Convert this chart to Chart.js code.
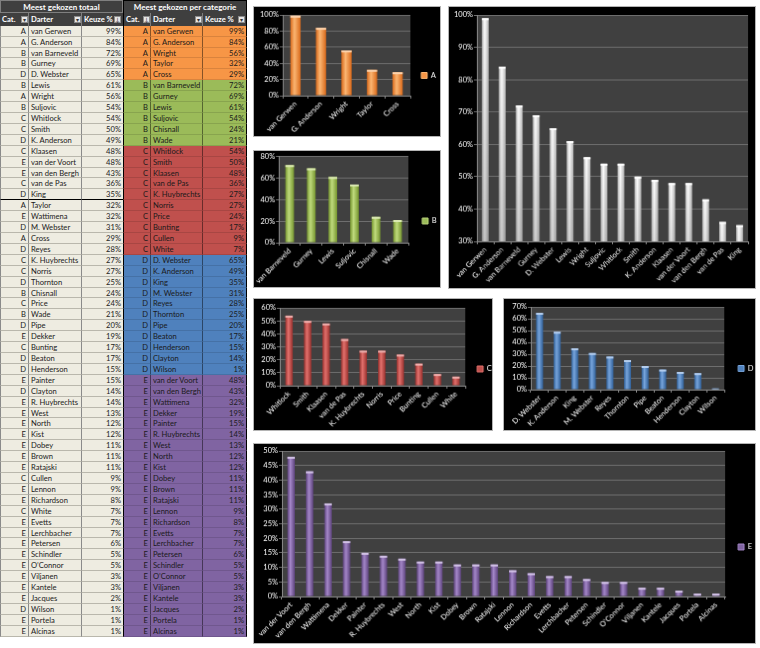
<!DOCTYPE html>
<html>
<head>
<meta charset="utf-8">
<script src="https://cdn.jsdelivr.net/npm/chart.js@4.4.0/dist/chart.umd.min.js"></script>
<style>
body{margin:0;width:760px;height:648px;background:#fff;position:relative;overflow:hidden;font-family:Lato,sans-serif}
.c{position:absolute;box-sizing:border-box;font-size:7.6px;color:#1a1a1a;white-space:nowrap;overflow:hidden;padding:0 2px}
.h{color:#fff;font-weight:bold;background:#3f3f3f}
.btn{position:absolute;width:7px;height:7px;box-sizing:border-box;background:#e6e6e6;border:1px solid #8c8c8c;font-size:6px;line-height:5px;text-align:center;color:#333}
</style>
</head>
<body>
<script>
// overall ranking (left table)
const totalCats = ['A','A','B','B','D','B','A','B','C','C','D','C','E','E','C','D','A','E','D','A','D','C','C','D','B','C','B','D','E','C','D','D','E','D','E','E','E','E','E','E','E','C','E','E','C','E','E','E','E','E','E','E','E','D','E','E'];
const totalNames = ['van Gerwen','G. Anderson','van Barneveld','Gurney','D. Webster','Lewis','Wright','Suljovic','Whitlock','Smith','K. Anderson','Klaasen','van der Voort','van den Bergh','van de Pas','King','Taylor','Wattimena','M. Webster','Cross','Reyes','K. Huybrechts','Norris','Thornton','Chisnall','Price','Wade','Pipe','Dekker','Bunting','Beaton','Henderson','Painter','Clayton','R. Huybrechts','West','North','Kist','Dobey','Brown','Ratajski','Cullen','Lennon','Richardson','White','Evetts','Lerchbacher','Petersen','Schindler','O’Connor','Viljanen','Kantele','Jacques','Wilson','Portela','Alcinas'];
const totalPct = [99,84,72,69,65,61,56,54,54,50,49,48,48,43,36,35,32,32,31,29,28,27,27,25,24,24,21,20,19,17,17,15,15,14,14,13,12,12,11,11,11,9,9,8,7,7,7,6,5,5,3,3,2,1,1,1];

// per category
const namesA = ['van Gerwen','G. Anderson','Wright','Taylor','Cross'];
const pctA = [99,84,56,32,29];
const namesB = ['van Barneveld','Gurney','Lewis','Suljovic','Chisnall','Wade'];
const pctB = [72,69,61,54,24,21];
const namesC = ['Whitlock','Smith','Klaasen','van de Pas','K. Huybrechts','Norris','Price','Bunting','Cullen','White'];
const pctC = [54,50,48,36,27,27,24,17,9,7];
const namesD = ['D. Webster','K. Anderson','King','M. Webster','Reyes','Thornton','Pipe','Beaton','Henderson','Clayton','Wilson'];
const pctD = [65,49,35,31,28,25,20,17,15,14,1];
const namesE = ['van der Voort','van den Bergh','Wattimena','Dekker','Painter','R. Huybrechts','West','North','Kist','Dobey','Brown','Ratajski','Lennon','Richardson','Evetts','Lerchbacher','Petersen','Schindler','O’Connor','Viljanen','Kantele','Jacques','Portela','Alcinas'];
const pctE = [48,43,32,19,15,14,13,12,12,11,11,11,9,8,7,7,6,5,5,3,3,2,1,1];

const catColor = {A:'#f79646', B:'#9bbb59', C:'#c0504d', D:'#4f81bd', E:'#8064a2'};

// ---------- table ----------
const ROW = 10.91, TOP = 25.7;
function cell(x, y, w, h, txt, cls, align, bg, extra) {
	let d = document.createElement('div');
	d.className = 'c ' + (cls || '');
	d.style.cssText += `left:${x}px;top:${y}px;width:${w}px;height:${h}px;line-height:${h}px;text-align:${align};` + (bg ? `background:${bg};` : '') + (extra || '');
	d.textContent = txt;
	document.body.appendChild(d);
	return d;
}
function btn(x, y, g) {
	let b = document.createElement('div');
	b.className = 'btn';
	b.style.left = x + 'px'; b.style.top = y + 'px';
	b.textContent = g;
	document.body.appendChild(b);
}

cell(0, 0, 123, 13, 'Meest gekozen totaal', 'h', 'center', null, 'font-size:8px;border:1px solid #7f7f7f;');
cell(123, 0, 124, 13, 'Meest gekozen per categorie', 'h', 'center', null, 'font-size:8px;border:1.5px solid #000;border-bottom:none;');
let hy = 13, hh = 12.7;
cell(0, hy, 29, hh, 'Cat.', 'h', 'left', null, 'border-right:1px solid #7f7f7f;');
cell(29, hy, 53, hh, 'Darter', 'h', 'left', null, 'border-right:1px solid #7f7f7f;');
cell(82, hy, 41, hh, 'Keuze %', 'h', 'left', null, '');
cell(123, hy, 28, hh, 'Cat.', 'h', 'left', null, 'border-left:1.5px solid #000;border-right:1px solid #7f7f7f;');
cell(151, hy, 52, hh, 'Darter', 'h', 'left', null, 'border-right:1px solid #7f7f7f;');
cell(203, hy, 44, hh, 'Keuze %', 'h', 'left', null, 'border-right:1.5px solid #000;');
btn(21, 15.5, '▾'); btn(74, 15.5, '▾'); btn(114, 15.5, '↓');
btn(143, 15.5, '↓'); btn(195, 15.5, '▾'); btn(238, 15.5, '▾');

const rightNames = [].concat(namesA, namesB, namesC, namesD, namesE);
const rightPct = [].concat(pctA, pctB, pctC, pctD, pctE);
const rightCats = [].concat(namesA.map(() => 'A'), namesB.map(() => 'B'), namesC.map(() => 'C'), namesD.map(() => 'D'), namesE.map(() => 'E'));

totalNames.forEach(function (n, i) {
	let y = TOP + i * ROW;
	let bl = 'border-bottom:1px solid #b9b7ac;border-right:1px solid #8a8a8a;';
	if (i == 15) bl = 'border-bottom:1.5px solid #000;border-right:1px solid #8a8a8a;';
	cell(0, y, 29, ROW, totalCats[i], '', 'right', '#eeece1', bl + 'border-left:1px solid #8a8a8a;');
	cell(29, y, 53, ROW, n, '', 'left', '#eeece1', bl);
	cell(82, y, 41, ROW, totalPct[i] + '%', '', 'right', '#eeece1', bl.replace('border-right:1px solid #8a8a8a;', ''));
	let c = catColor[rightCats[i]];
	let br = 'border-bottom:1px solid rgba(0,0,0,0.12);border-right:1px solid rgba(0,0,0,0.45);';
	cell(123, y, 28, ROW, rightCats[i], '', 'right', c, br + 'border-left:1.5px solid #000;');
	cell(151, y, 52, ROW, rightNames[i], '', 'left', c, br);
	cell(203, y, 44, ROW, rightPct[i] + '%', '', 'right', c, br.replace('rgba(0,0,0,0.45)', '#000').replace('border-right:1px', 'border-right:1.5px'));
});

// ---------- charts ----------
Chart.defaults.font.family = 'Lato, sans-serif';

const plotBg = {
	id: 'plotBg',
	beforeDraw(chart) {
		const a = chart.chartArea, c = chart.ctx;
		c.save();
		c.fillStyle = '#404040';
		c.fillRect(a.left, a.top, a.right - a.left, a.bottom - a.top);
		c.restore();
	}
};
const caps = {
	id: 'caps',
	afterDatasetsDraw(chart, args, opts) {
		const c = chart.ctx;
		c.save();
		chart.getDatasetMeta(0).data.forEach(function (b) {
			const w = b.width;
			if (opts.shade) {
				let g = c.createLinearGradient(0, b.y, 0, b.base);
				g.addColorStop(0, 'rgba(0,0,0,0)');
				g.addColorStop(1, 'rgba(0,0,0,0.3)');
				c.fillStyle = g;
				c.fillRect(b.x - w / 2, b.y, w, b.base - b.y);
			}
			c.fillStyle = opts.cap;
			c.fillRect(b.x - w / 2, b.y, w, Math.min(2, b.base - b.y));
		});
		c.restore();
	}
};

function barFill(light, dark) {
	return function (ctx) {
		const xs = ctx.chart.scales.x;
		if (!xs || ctx.dataIndex === undefined) return dark;
		const cx = xs.getPixelForValue(ctx.dataIndex);
		const w = xs.width / xs.ticks.length * 0.4;
		const g = ctx.chart.ctx.createLinearGradient(cx - w / 2, 0, cx + w / 2, 0);
		g.addColorStop(0, dark);
		g.addColorStop(0.4, light);
		g.addColorStop(1, dark);
		return g;
	};
}

function barChart(o) {
	const cv = document.createElement('canvas');
	const L = o.box[0] + 1, T = o.box[1] + 1, W = o.box[2] - o.box[0] - 2, H = o.box[3] - o.box[1] - 2;
	cv.width = W; cv.height = H;
	cv.style.cssText = `position:absolute;left:${L - 1}px;top:${T - 1}px;width:${W}px;height:${H}px;border:1px solid #b4b4b4;background:#000`;
	document.body.appendChild(cv);
	const yW = o.plot[0] - L, padTop = o.plot[1] - T, xH = (T + H) - o.plot[3];
	const legW = o.legend ? (L + W) - o.plot[2] : 0;
	const padRight = o.legend ? 0 : (L + W) - o.plot[2];
	return new Chart(cv, {
		type: 'bar',
		data: {
			labels: o.labels,
			datasets: [{
				label: o.legend || '',
				data: o.values,
				backgroundColor: barFill(o.light, o.dark),
				borderWidth: 0,
				barPercentage: 0.4,
				categoryPercentage: 1
			}]
		},
		options: {
			responsive: false,
			animation: false,
			layout: { padding: { top: padTop, right: padRight, left: 0, bottom: 0 } },
			plugins: {
				legend: {
					display: !!o.legend,
					position: 'right',
					maxWidth: legW,
					labels: {
						color: '#fff',
						boxWidth: 6,
						boxHeight: 6,
						padding: o.legend ? o.lx - o.plot[2] : 10,
						font: { size: 7.5 },
						generateLabels: () => [{ text: o.legend, fillStyle: o.color, strokeStyle: o.light, lineWidth: 1, fontColor: '#fff', datasetIndex: 0 }]
					}
				},
				tooltip: { enabled: false },
				caps: { cap: o.cap, shade: !!o.shade }
			},
			scales: {
				x: {
					grid: { offset: true, drawOnChartArea: false, color: '#8a8a8a', tickLength: 3 },
					border: { color: '#8a8a8a' },
					ticks: { color: '#fff', autoSkip: false, maxRotation: 45, minRotation: 45, padding: 1, font: { size: 7.5 } },
					afterFit: s => { s.height = xH; }
				},
				y: {
					min: o.min, max: o.max,
					grid: { color: '#6e6e6e', tickLength: 3 },
					border: { color: '#8a8a8a' },
					ticks: { stepSize: o.step, color: '#fff', padding: 1, font: { size: 7.5 }, callback: v => v + '%' },
					afterFit: s => { s.width = yW; }
				}
			}
		},
		plugins: [plotBg, caps]
	});
}

barChart({ box: [253, 6, 443, 139], plot: [283, 15, 412, 97], lx: 423, labels: namesA, values: pctA, min: 0, max: 100, step: 10,
	legend: 'A', color: '#f79646', light: '#fbb673', dark: '#d9691a', cap: '#fcd3ad' });
barChart({ box: [253, 150, 443, 290], plot: [279, 155, 410, 244], lx: 424, labels: namesB, values: pctB, min: 0, max: 80, step: 10,
	legend: 'B', color: '#9bbb59', light: '#c0db7e', dark: '#76962f', cap: '#dbeab3' });
barChart({ box: [448, 6, 758, 291], plot: [477, 15, 750, 243], labels: totalNames.slice(0, 16), values: totalPct.slice(0, 16), min: 30, max: 100, step: 10,
	color: '#ffffff', light: '#ffffff', dark: '#b8b8b8', cap: '#ffffff', shade: true });
barChart({ box: [253, 298, 495, 433], plot: [280, 308, 467, 387], lx: 479, labels: namesC, values: pctC, min: 0, max: 60, step: 10,
	legend: 'C', color: '#c0504d', light: '#e2716d', dark: '#98302d', cap: '#efb0ae' });
barChart({ box: [503, 298, 758, 433], plot: [531, 307, 726, 391], lx: 740, labels: namesD, values: pctD, min: 0, max: 70, step: 10,
	legend: 'D', color: '#4f81bd', light: '#78a5dc', dark: '#2f5f98', cap: '#b3cdee' });
barChart({ box: [253, 443, 758, 646], plot: [282, 451, 727, 598], lx: 740, labels: namesE, values: pctE, min: 0, max: 50, step: 5,
	legend: 'E', color: '#8064a2', light: '#a487c8', dark: '#5d437d', cap: '#d2c2e6' });
</script>
</body>
</html>
